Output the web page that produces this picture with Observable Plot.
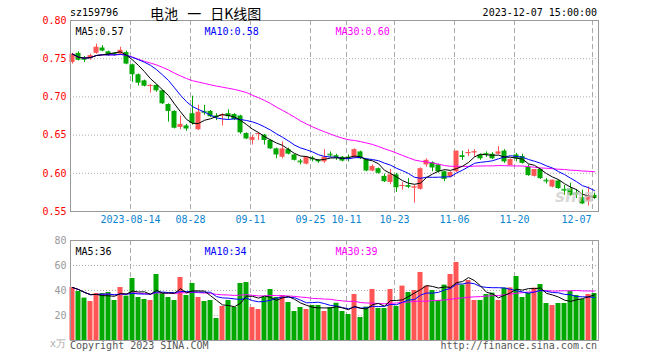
<!DOCTYPE html>
<html><head><meta charset="utf-8">
<script src="https://cdn.jsdelivr.net/npm/d3@7"></script>
<script src="https://cdn.jsdelivr.net/npm/@observablehq/plot@0.6"></script>
<style>
body{margin:0;background:#fff}
#wrap{position:relative;width:660px;height:360px;font-family:"DejaVu Sans Mono",monospace;font-size:10px;overflow:hidden}
.t{position:absolute;white-space:pre;line-height:12px}
#price,#vol{position:absolute;left:0}
#price{top:0}
#vol{top:230px}
</style></head><body>
<div id="wrap">
  <div id="price"></div>
  <div id="vol"></div>
</div>
<script>
const code = "sz159796";
const title = "电池 一 日K线图";
const stamp = "2023-12-07 15:00:00";
const dates = ["07-31",
"08-01","08-02","08-03","08-04","08-07","08-08","08-09","08-10","08-11","08-14","08-15","08-16","08-17","08-18","08-21","08-22","08-23","08-24","08-25","08-28","08-29","08-30","08-31",
"09-01","09-04","09-05","09-06","09-07","09-08","09-11","09-12","09-13","09-14","09-15","09-18","09-19","09-20","09-21","09-22","09-25","09-26","09-27","09-28",
"10-09","10-10","10-11","10-12","10-13","10-16","10-17","10-18","10-19","10-20","10-23","10-24","10-25","10-26","10-27","10-30","10-31",
"11-01","11-02","11-03","11-06","11-07","11-08","11-09","11-10","11-13","11-14","11-15","11-16","11-17","11-20","11-21","11-22","11-23","11-24","11-27","11-28","11-29","11-30",
"12-01","12-04","12-05","12-06","12-07"];
const open  = [0.745,0.757,0.751,0.750,0.757,0.764,0.759,0.757,0.756,0.758,0.742,0.729,0.721,0.714,0.715,0.708,0.690,0.681,0.660,0.662,0.678,0.657,0.681,0.681,0.675,0.675,0.678,0.677,0.675,0.652,0.643,0.651,0.650,0.643,0.632,0.621,0.631,0.624,0.616,0.612,0.620,0.617,0.615,0.625,0.623,0.621,0.621,0.620,0.628,0.618,0.603,0.606,0.596,0.588,0.598,0.583,0.584,0.581,0.579,0.611,0.614,0.611,0.602,0.595,0.602,0.623,0.626,0.627,0.624,0.626,0.625,0.625,0.629,0.610,0.624,0.622,0.608,0.596,0.605,0.591,0.582,0.590,0.579,0.580,0.574,0.568,0.563,0.571];
const high  = [0.757,0.759,0.753,0.756,0.769,0.767,0.760,0.758,0.765,0.760,0.743,0.730,0.722,0.716,0.716,0.709,0.691,0.682,0.675,0.664,0.701,0.689,0.689,0.682,0.678,0.678,0.683,0.678,0.676,0.653,0.650,0.653,0.651,0.644,0.633,0.641,0.633,0.625,0.618,0.622,0.622,0.618,0.631,0.628,0.625,0.622,0.624,0.632,0.629,0.619,0.611,0.607,0.599,0.605,0.600,0.588,0.593,0.584,0.607,0.619,0.615,0.612,0.603,0.602,0.629,0.629,0.631,0.631,0.625,0.628,0.627,0.635,0.631,0.619,0.626,0.625,0.611,0.605,0.606,0.593,0.591,0.591,0.584,0.587,0.579,0.578,0.582,0.574];
const low   = [0.743,0.747,0.745,0.748,0.756,0.759,0.753,0.753,0.755,0.742,0.719,0.714,0.713,0.705,0.706,0.690,0.667,0.658,0.657,0.655,0.663,0.656,0.676,0.673,0.669,0.662,0.670,0.669,0.651,0.644,0.637,0.643,0.637,0.631,0.619,0.619,0.624,0.616,0.611,0.611,0.615,0.613,0.613,0.621,0.617,0.615,0.615,0.619,0.618,0.602,0.602,0.599,0.588,0.585,0.575,0.578,0.580,0.561,0.578,0.608,0.602,0.600,0.589,0.594,0.601,0.617,0.622,0.621,0.617,0.621,0.618,0.624,0.613,0.610,0.615,0.612,0.596,0.595,0.592,0.586,0.581,0.579,0.571,0.570,0.567,0.559,0.557,0.566];
const close = [0.756,0.748,0.748,0.754,0.765,0.760,0.754,0.755,0.761,0.743,0.729,0.718,0.714,0.715,0.708,0.691,0.681,0.659,0.664,0.658,0.665,0.680,0.680,0.674,0.673,0.677,0.674,0.670,0.653,0.645,0.647,0.652,0.643,0.632,0.624,0.632,0.625,0.617,0.615,0.621,0.619,0.615,0.621,0.624,0.622,0.616,0.620,0.631,0.619,0.603,0.609,0.600,0.589,0.598,0.581,0.584,0.583,0.582,0.606,0.617,0.607,0.602,0.592,0.601,0.629,0.622,0.627,0.628,0.619,0.625,0.619,0.628,0.615,0.618,0.619,0.613,0.597,0.605,0.593,0.590,0.591,0.580,0.578,0.571,0.573,0.560,0.571,0.567];
const volume = [42.4,39.2,33.9,31.2,37.6,37.6,38.4,32.0,42.4,35.5,49.6,34.4,32.8,32.0,52.8,37.6,34.4,32.0,50.4,36.0,45.6,34.4,31.2,32.0,17.6,27.2,32.0,26.4,45.6,46.4,26.4,24.8,34.4,40.8,34.4,36.0,30.4,23.2,26.4,24.8,28.0,28.0,23.2,26.2,29.8,23.2,20.8,36.8,18.4,26.7,40.8,25.6,25.6,40.8,27.2,43.5,38.4,40.0,54.4,43.5,40.0,32.0,44.3,52.8,62.4,44.3,48.0,32.0,32.0,36.8,37.9,32.0,41.9,42.1,51.2,34.4,37.9,41.9,44.8,29.6,28.0,29.6,29.6,39.5,36.0,32.8,36.8,37.6];
const priceTicks = [0.80,0.75,0.70,0.65,0.60,0.55];
const volTicks = [80,60,40,20];
const tickIndex = [10,20,30,40,46,54,64,74,87];
const tickLabels = ["2023-08-14","08-28","09-11","09-25","10-11","10-23","11-06","11-20","12-07"];
const maNames = ["MA5","MA10","MA30"];
const maPeriods = [5,10,30];
const maColors = ["#000000","#0000ff","#ff00ff"];
const priceMaText = ["0.57","0.58","0.60"];
const volMaText = ["36","34","39"];

const RED = "#ff5555", GREEN = "#00a800";
const FONT = "'DejaVu Sans Mono', monospace";
const data = dates.map((d,i)=>({date:d, open:open[i], high:high[i], low:low[i], close:close[i], volume:volume[i], color: close[i] >= open[i] ? RED : GREEN}));
const ticks = tickIndex.map((k,j)=>({date: dates[k], label: tickLabels[j], last: j === tickIndex.length-1}));
const legendDx = [5,134,265];

const common = {width:660, marginLeft:70, marginRight:62,
  style:{fontFamily:FONT, fontSize:"10px", background:"transparent", overflow:"visible"},
  x:{type:"band", domain:dates, padding:0, axis:null}, color:{type:"identity"}};

const maLines = (yField) => maPeriods.slice().reverse().map((k,j)=>{
  const idx = maPeriods.length-1-j;
  return Plot.lineY(data, Plot.windowY({k, anchor:"end", reduce:"mean"}, {x:"date", y:yField, stroke: maColors[idx], strokeWidth:1, dx:-1}));
});
const legend = (vals, dy) => maNames.map((n,i)=>Plot.text([n+":"+vals[i]], {text:d=>d, frameAnchor:"top-left", textAnchor:"start", dx:legendDx[i], dy, fill:maColors[i], fontSize:10}));

const price = Plot.plot({...common, height:230, marginTop:20, marginBottom:19,
  y:{domain:[0.55,0.80], axis:null},
  marks:[
    Plot.ruleY(priceTicks.slice(1,-1), {stroke:"#aaa", strokeDasharray:"1,2"}),
    Plot.ruleX(ticks, {x:"date", stroke:"#aaa", strokeDasharray:"5,3", dx:-3}),
    Plot.ruleX(data, {x:"date", y1:"low", y2:"high", stroke:"color", dx:-1}),
    Plot.barY(data, {x:"date", y1:"open", y2:"close", fill:"color", insetRight:1, dx:-0.5}),
    Plot.tickY(data.filter(d=>Math.abs(d.close-d.open)<0.0015), {x:"date", y:"close", stroke:"color", insetRight:1, dx:-0.5}),
    ...maLines("close"),
    Plot.text(["sina"], {text:d=>d, frameAnchor:"bottom-right", textAnchor:"end", dx:-4, dy:-10, fill:"#cfcfcf", fontSize:17, fontWeight:"bold", fontStyle:"italic", fontFamily:"'DejaVu Sans', sans-serif", fillOpacity:0.8}),
    Plot.frame({stroke:"#999"}),
    Plot.text(priceTicks, {y:d=>d, text:d=>d.toFixed(2), frameAnchor:"left", textAnchor:"end", dx:-4, fill:"#f00", fontSize:10}),
    Plot.text(ticks.filter(d=>!d.last), {x:"date", text:"label", frameAnchor:"bottom", dy:11, dx:-3, fill:"#0a84d0", fontSize:10}),
    Plot.text(ticks.filter(d=>d.last), {x:"date", text:"label", frameAnchor:"bottom", dy:11, dx:-4, textAnchor:"end", fill:"#0a84d0", fontSize:10}),
    ...legend(priceMaText, 7)
  ]});

const vol = Plot.plot({...common, height:130, marginTop:10, marginBottom:20,
  y:{domain:[0,80], axis:null},
  marks:[
    Plot.ruleY(volTicks.slice(1), {stroke:"#aaa", strokeDasharray:"1,2"}),
    Plot.ruleX(ticks, {x:"date", stroke:"#aaa", strokeDasharray:"5,3", dx:-3}),
    Plot.barY(data, {x:"date", y:"volume", fill:"color", insetRight:1, dx:-0.5}),
    ...maLines("volume"),
    Plot.frame({stroke:"#999"}),
    Plot.text(volTicks, {y:d=>d, text:d=>String(d), frameAnchor:"left", textAnchor:"end", dx:-4, fill:"#999", fontSize:10}),
    ...legend(volMaText, 7)
  ]});

document.getElementById("price").appendChild(price);
document.getElementById("vol").appendChild(vol);

const wrap = document.getElementById("wrap");
function addText(txt, css){const d=document.createElement("div");d.className="t";d.textContent=txt;Object.assign(d.style,css);wrap.appendChild(d);}
addText(code, {left:"70px", top:"7px", color:"#000"});
addText(title, {left:"150px", top:"4px", fontFamily:"'Noto Sans CJK SC', sans-serif", fontSize:"14px", lineHeight:"18px", color:"#000", wordSpacing:"6px"});
addText(stamp, {right:"63px", top:"7px", color:"#000"});
addText("x万", {left:"50px", top:"338px", color:"#aaa", fontSize:"10px"});
addText("Copyright 2023 SINA.COM", {left:"70px", top:"340px", color:"#555"});
addText("http://finance.sina.com.cn", {right:"63px", top:"340px", color:"#555"});
</script>
</body></html>
